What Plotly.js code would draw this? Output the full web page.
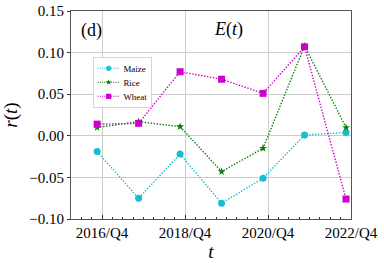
<!DOCTYPE html>
<html>
<head>
<meta charset="utf-8">
<script src="https://cdn.plot.ly/plotly-3.0.1.min.js"></script>
<style>html,body{margin:0;padding:0;background:#fff;}#chart{width:384px;height:265px;}</style>
</head>
<body>
<div id="chart"></div>
<script>
const xYears = [2016.63, 2017.63, 2018.63, 2019.63, 2020.63, 2021.63, 2022.63];
const maize = [-0.019, -0.075, -0.022, -0.081, -0.051, 0.001, 0.004];
const rice = [0.010, 0.017, 0.011, -0.043, -0.015, 0.108, 0.010];
const wheat = [0.014, 0.015, 0.077, 0.068, 0.051, 0.107, -0.076];
const tickVals = [2016.75, 2018.75, 2020.75, 2022.75];
const tickLabels = ['2016/Q4', '2018/Q4', '2020/Q4', '2022/Q4'];
const yTicks = [-0.10, -0.05, 0.00, 0.05, 0.10, 0.15];
const yTickLabels = ['\u22120.10', '\u22120.05', '0.00', '0.05', '0.10', '0.15'];

const serif = "'Liberation Serif', 'DejaVu Serif', serif";
const dotted = '1.4px,1.6px';
const traces = [
  {x: xYears, y: maize, name: 'Maize', mode: 'lines+markers',
   line: {color: '#17becf', dash: dotted, width: 1.4}, marker: {color: '#17becf', symbol: 'circle', size: 7}},
  {x: xYears, y: rice, name: 'Rice', mode: 'lines+markers',
   line: {color: 'green', dash: dotted, width: 1.4}, marker: {color: 'green', symbol: 'star', size: 6}},
  {x: xYears, y: wheat, name: 'Wheat', mode: 'lines+markers',
   line: {color: '#cc00cc', dash: dotted, width: 1.4}, marker: {color: '#cc00cc', symbol: 'square', size: 7}}
];
const layout = {
  width: 384, height: 265,
  margin: {l: 71, r: 33, t: 11, b: 46},
  paper_bgcolor: '#fff', plot_bgcolor: '#fff',
  font: {family: serif, size: 15, color: '#000'},
  showlegend: true,
  legend: {x: 0.079, y: 0.78, xanchor: 'left', yanchor: 'top', bgcolor: 'rgba(255,255,255,0.9)',
           bordercolor: '#c8c8c8', borderwidth: 1, font: {family: serif, size: 12}, tracegroupgap: 0,
           itemwidth: 30},
  xaxis: {range: [2016.0, 2022.75], tickmode: 'array', tickvals: tickVals, ticktext: tickLabels,
          showgrid: true, gridcolor: '#cccccc', gridwidth: 1, zeroline: false,
          showline: true, linecolor: '#555', linewidth: 1, mirror: true,
          ticks: 'inside', ticklen: 4, tickcolor: '#333',
          minor: {dtick: 0.25, tick0: 2016.0, ticks: 'inside', ticklen: 2, tickcolor: '#333', showgrid: false},
          tickfont: {family: serif, size: 15},
          title: {text: '<i>t</i>', font: {family: serif, size: 19}, standoff: 0}},
  yaxis: {range: [-0.10, 0.15], tickmode: 'array', tickvals: yTicks, ticktext: yTickLabels,
          showgrid: true, gridcolor: '#cccccc', gridwidth: 1, zeroline: false,
          showline: true, linecolor: '#555', linewidth: 1, mirror: true,
          ticks: 'outside', ticklen: 3, tickcolor: '#333',
          tickfont: {family: serif, size: 15},
          title: {text: '<i>r</i>(<i>t</i>)', font: {family: serif, size: 19}, standoff: 6}},
  annotations: [
    {text: '(d)', xref: 'paper', yref: 'paper', x: 0.03, y: 0.965, xanchor: 'left', yanchor: 'top',
     showarrow: false, font: {family: serif, size: 18}},
    {text: '<i>E</i>(<i>t</i>)', xref: 'paper', yref: 'paper', x: 0.5625, y: 0.97, xanchor: 'center', yanchor: 'top',
     showarrow: false, font: {family: serif, size: 18}}
  ]
};
Plotly.newPlot('chart', traces, layout, {displayModeBar: false, staticPlot: true}).then(function (gd) {
  // compact the legend like the original's small matplotlib legend
  const lg = gd.querySelector('g.legend');
  if (lg) {
    const t = lg.getAttribute('transform') || '';
    lg.setAttribute('transform', t + ' scale(0.74)');
  }
});
</script>
</body>
</html>
